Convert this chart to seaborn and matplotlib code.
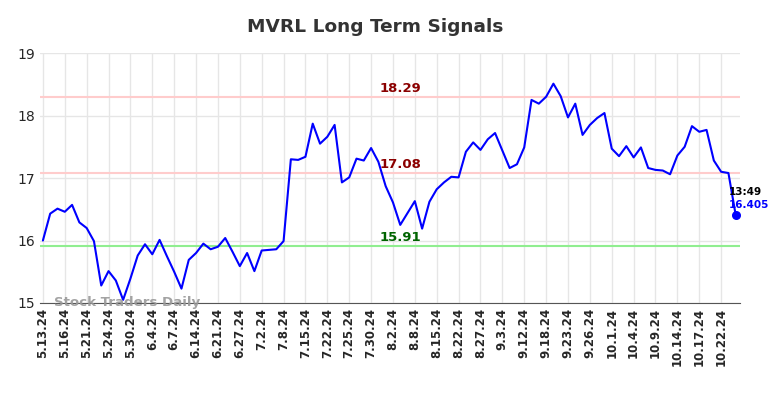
import matplotlib
matplotlib.use("Agg")
import matplotlib.pyplot as plt
import numpy as np
import seaborn as sns

# price series
prices = [16.00, 16.43, 16.51, 16.46, 16.57, 16.29, 16.20, 15.99, 15.28, 15.51,
          15.36, 15.05, 15.39, 15.76, 15.94, 15.78, 16.01, 15.75, 15.50, 15.23,
          15.69, 15.80, 15.95, 15.86, 15.90, 16.04, 15.82, 15.59, 15.80, 15.51,
          15.84, 15.85, 15.86, 15.99, 17.30, 17.29, 17.34, 17.87, 17.55, 17.66,
          17.85, 16.93, 17.01, 17.31, 17.28, 17.48, 17.26, 16.87, 16.61, 16.25,
          16.44, 16.63, 16.19, 16.62, 16.82, 16.93, 17.02, 17.01, 17.42, 17.57,
          17.45, 17.62, 17.72, 17.44, 17.16, 17.22, 17.49, 18.25, 18.19, 18.30,
          18.51, 18.31, 17.97, 18.19, 17.69, 17.85, 17.96, 18.04, 17.47, 17.35,
          17.51, 17.33, 17.49, 17.16, 17.13, 17.12, 17.06, 17.36, 17.50, 17.83,
          17.74, 17.77, 17.28, 17.10, 17.08, 16.405]

tick_labels = ["5.13.24", "5.16.24", "5.21.24", "5.24.24", "5.30.24", "6.4.24",
               "6.7.24", "6.14.24", "6.21.24", "6.27.24", "7.2.24", "7.8.24",
               "7.15.24", "7.22.24", "7.25.24", "7.30.24", "8.2.24", "8.8.24",
               "8.15.24", "8.22.24", "8.27.24", "9.3.24", "9.12.24", "9.18.24",
               "9.23.24", "9.26.24", "10.1.24", "10.4.24", "10.9.24", "10.14.24",
               "10.17.24", "10.22.24"]

upper_levels = [18.29, 17.08]
lower_level = 15.91
last_time = "13:49"

sns.set_style("white")

fig = plt.figure(figsize=(7.84, 3.98), dpi=100)
ax = fig.add_axes([0.051, 0.2387, 0.893, 0.628])

x = np.arange(len(prices))
sns.lineplot(x=x, y=prices, ax=ax, color="blue", linewidth=1.5)

for lvl in upper_levels:
    ax.axhline(lvl, color="#ffcccc", linewidth=1.5, zorder=1)
    ax.text(49, lvl + 0.04, f"{lvl:.2f}", color="#8b0000", fontsize=9.5,
            fontweight="bold", ha="center", va="bottom")
ax.axhline(lower_level, color="#90ee90", linewidth=1.5, zorder=1)
ax.text(49, lower_level + 0.04, f"{lower_level:.2f}", color="#006400", fontsize=9.5,
        fontweight="bold", ha="center", va="bottom")

# last point marker and labels
ax.scatter([x[-1]], [prices[-1]], color="blue", s=30, zorder=5)
ax.text(x[-1] - 1, prices[-1] + 0.37, last_time, color="black", fontsize=7.5,
        fontweight="bold", ha="left", va="center")
ax.text(x[-1] - 1, prices[-1] + 0.16, f"{prices[-1]}", color="blue", fontsize=7.5,
        fontweight="bold", ha="left", va="center")

ax.text(0.02, 0.0, "Stock Traders Daily", transform=ax.transAxes, color="#999999",
        fontsize=9.6, fontweight="bold", alpha=0.9, ha="left", va="center")

ax.set_xlim(-0.4, 95.6)
ax.set_ylim(15, 19)
ax.set_yticks([15, 16, 17, 18, 19])
ax.set_xticks(x[::3])
ax.set_xticklabels(tick_labels, rotation=90, fontsize=8.5, fontweight="bold")
ax.tick_params(axis="y", labelsize=10, length=0)
ax.tick_params(axis="x", length=0)

ax.grid(True, color="#e6e6e6", linewidth=1)
ax.set_axisbelow(True)
for side in ["top", "right", "left"]:
    ax.spines[side].set_visible(False)
ax.spines["bottom"].set_color("#555555")

fig.suptitle("MVRL Long Term Signals", fontsize=13.3, fontweight="bold",
             color="#333333", x=0.478, y=0.955)

fig.savefig("out.png", dpi=100)
